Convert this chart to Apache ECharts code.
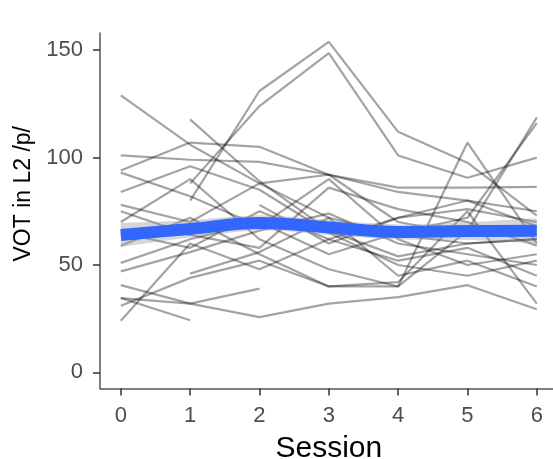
<!DOCTYPE html>
<html>
<head>
<meta charset="utf-8">
<script src="https://cdn.jsdelivr.net/npm/echarts@6/dist/echarts.min.js"></script>
<style>
html,body{margin:0;padding:0;background:#fff;}
#chart{width:553px;height:459px;}
</style>
</head>
<body>
<div id="chart"></div>
<script>
// Sessions (x values)
const sessions = [0, 1, 2, 3, 4, 5, 6];
const xTicks = [0, 1, 2, 3, 4, 5, 6];
const yTicks = [0, 50, 100, 150];

// Individual participant VOT trajectories (null = session not recorded)
const p01 = [129, 106, 88, 72, 64, 60, 62];
const p02 = [101, 99, 98, 92, 86, 86, 86.4];
const p03 = [94, 107, 105, 92, 84, 80, 75];
const p04 = [84, 96, 85, 65, 50, 45, 52];
const p05 = [null, 88, 124, 148.6, 101, 90.6, 100];
const p06 = [null, 80, 131, 153.9, 112, 97.6, 73];
const p07 = [78, 70, 88, 92, 70, 64, 67];
const p08 = [75, 64, 58, 86, 76, 70, 59];
const p09 = [70, 90, 62, 48, 40, 107, 60];
const p10 = [65, 58, 75, 62, 52, 58, 45];
const p11 = [59, 72, 55, 40, 42, 75, 32];
const p12 = [51, 62, 70, 55, 65, 72, 116];
const p13 = [47, 56, 66, 74, 60, 55, 50];
const p14 = [40.6, 32, 39, null, null, null, null];
const p15 = [34.6, 24.3, null, null, null, null, null];
const p16 = [31, 44, 52, 40, 40, 66, 118.7];
const p17 = [24, 60, 48, 62, 72, 80, 68];
const p18 = [null, 117.8, 89, 66, 54, 60, 62];
const p19 = [34.6, 32, 25.7, 32, 35, 40.6, 29.4];
const p20 = [93, 82, 68, 90, 62, 50, 55];
const p21 = [null, 46, 56, 72, 45, 52, 40];
const p22 = [null, null, 78, 60, 72, 76, 70];

const participants = [p01,p02,p03,p04,p05,p06,p07,p08,p09,p10,p11,p12,p13,p14,p15,p16,p17,p18,p19,p20,p21,p22];

// Smoothed trend and its confidence band
const smoothFit = [64, 66.8, 69.6, 67.5, 65.4, 65.8, 65.9];
const bandLower = [58.4, 62.8, 66.1, 64.0, 61.9, 61.6, 60.0];
const bandUpper = [69.6, 70.8, 73.1, 71.0, 68.9, 70.0, 71.8];

const pairs = (vals) => sessions.map((s, i) => [s, vals[i]]).filter(d => d[1] !== null);

const series = [];
participants.forEach((p, i) => {
  series.push({
    type: 'line',
    name: 'p' + i,
    data: pairs(p),
    symbol: 'none',
    lineStyle: { color: 'rgba(0,0,0,0.36)', width: 2.2 },
    z: 2,
    silent: true
  });
});

// Catmull-Rom spline through pixel points -> SVG path segments
function splineSeg(pts) {
  let d = '';
  for (let i = 0; i < pts.length - 1; i++) {
    const p0 = pts[Math.max(i - 1, 0)], p1 = pts[i], p2 = pts[i + 1], p3 = pts[Math.min(i + 2, pts.length - 1)];
    const c1 = [p1[0] + (p2[0] - p0[0]) / 6, p1[1] + (p2[1] - p0[1]) / 6];
    const c2 = [p2[0] - (p3[0] - p1[0]) / 6, p2[1] - (p3[1] - p1[1]) / 6];
    d += ' C' + c1[0] + ',' + c1[1] + ' ' + c2[0] + ',' + c2[1] + ' ' + p2[0] + ',' + p2[1];
  }
  return d;
}

series.push({
  type: 'custom',
  name: 'band',
  data: sessions.map((s, i) => [s, bandLower[i], bandUpper[i]]),
  encode: { x: 0, y: [1, 2] },
  z: 3,
  silent: true,
  renderItem: function (params, api) {
    if (params.dataIndex !== 0) return null;
    const up = sessions.map((s, i) => api.coord([s, bandUpper[i]]));
    const lo = sessions.map((s, i) => api.coord([s, bandLower[i]])).reverse();
    let d = 'M' + up[0][0] + ',' + up[0][1] + splineSeg(up);
    d += ' L' + lo[0][0] + ',' + lo[0][1] + splineSeg(lo) + ' Z';
    return {
      type: 'path',
      shape: { pathData: d },
      style: { fill: 'rgba(153,153,153,0.4)', stroke: null }
    };
  }
});

series.push({
  type: 'line',
  name: 'fit',
  data: pairs(smoothFit),
  symbol: 'none',
  smooth: 0.4,
  lineStyle: { color: '#3366FF', width: 12, cap: 'butt' },
  z: 4,
  silent: true
});

const chart = echarts.init(document.getElementById('chart'), null, { renderer: 'canvas' });
const font = 'Liberation Sans, Arial, sans-serif';
chart.setOption({
  animation: false,
  backgroundColor: '#ffffff',
  grid: { left: 100, top: 33, width: 457.6, height: 355.5, containLabel: false, outerBoundsMode: 'none' },
  xAxis: {
    type: 'value',
    min: -0.3,
    max: 6.3,
    interval: 1,
    name: 'Session',
    nameLocation: 'middle',
    nameGap: 45,
    nameTextStyle: { fontFamily: font, fontSize: 30, color: '#000' },
    axisLine: { show: true, onZero: false, lineStyle: { color: '#555', width: 1.5 } },
    axisTick: { show: true, length: 7, lineStyle: { color: '#333', width: 1.5 }, customValues: xTicks },
    axisLabel: { fontFamily: font, fontSize: 22, color: '#4D4D4D', margin: 16, customValues: xTicks,
      formatter: v => String(v) },
    splitLine: { show: false }
  },
  yAxis: {
    type: 'value',
    min: -7.5,
    max: 158,
    name: 'VOT in L2 /p/',
    nameLocation: 'middle',
    nameGap: 63,
    nameTextStyle: { fontFamily: font, fontSize: 23, color: '#000', padding: [0, 0, 0, 34] },
    axisLine: { show: true, onZero: false, lineStyle: { color: '#555', width: 1.5 } },
    axisTick: { show: true, length: 7, lineStyle: { color: '#333', width: 1.5 }, customValues: yTicks },
    axisLabel: { fontFamily: font, fontSize: 22, color: '#4D4D4D', margin: 17, customValues: yTicks },
    splitLine: { show: false }
  },
  series: series
});
</script>
</body>
</html>
